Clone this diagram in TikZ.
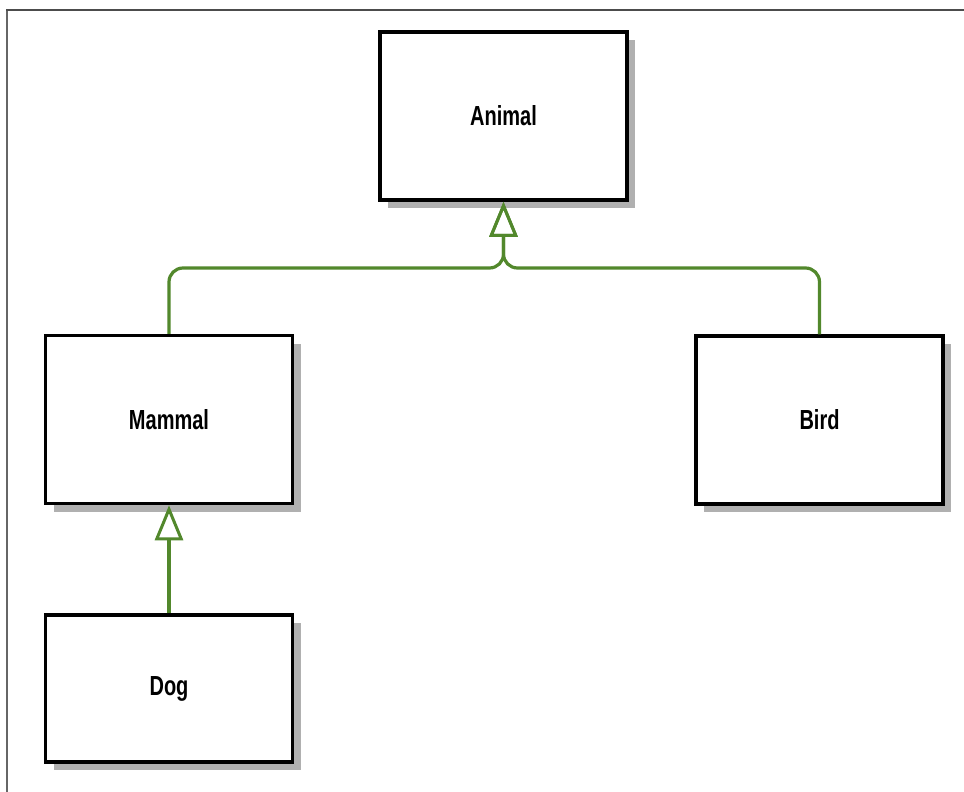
\documentclass[tikz,border=0pt]{standalone}
\usepackage{fontspec}
\setmainfont{Liberation Sans}
\usetikzlibrary{arrows.meta,shadows}

\definecolor{linkgreen}{RGB}{82,136,44}
\definecolor{shadowgray}{RGB}{176,176,176}

\tikzset{
  classbox/.style={
    draw=black, line width=3.5pt, fill=white,
    minimum width=247pt, minimum height=168pt, inner sep=0pt,
    drop shadow={shadow xshift=8pt, shadow yshift=-8pt, fill=shadowgray, opacity=1},
    font=\fontsize{20}{24}\selectfont\bfseries
  },
  inherit/.style={
    draw=linkgreen, line width=3.2pt, rounded corners=14pt,
    -{Triangle[open, length=35pt, width=28pt, line width=3pt]}
  }
}

\newcommand{\clsname}[1]{\scalebox{1}[1.38]{#1}}

\begin{document}
\begin{tikzpicture}[x=1pt, y=-1pt]
  \useasboundingbox (0,0) rectangle (964,792);
  \fill[white] (0,0) rectangle (964,792);

  % page frame
  \draw[gray!80!black, line width=2.5pt] (7,792) -- (7,10);
  \draw[black!70, line width=2.5pt] (6,10) -- (964,10);

  % classes
  \node[classbox] (animal) at (503.5,116) {\clsname{Animal}};
  \node[classbox] (mammal) at (169,419.5) {\clsname{Mammal}};
  \node[classbox] (bird)   at (819.5,420) {\clsname{Bird}};
  \node[classbox, minimum height=147pt] (dog) at (169,688.5) {\clsname{Dog}};

  \coordinate (join) at (503.5,268);

  % generalisation links
  \draw[inherit] (mammal.north) |- (join) -- (animal.south);
  \draw[inherit] (bird.north) |- (join) -- (animal.south);
  \draw[inherit] (dog.north) -- (mammal.south);
\end{tikzpicture}
\end{document}
